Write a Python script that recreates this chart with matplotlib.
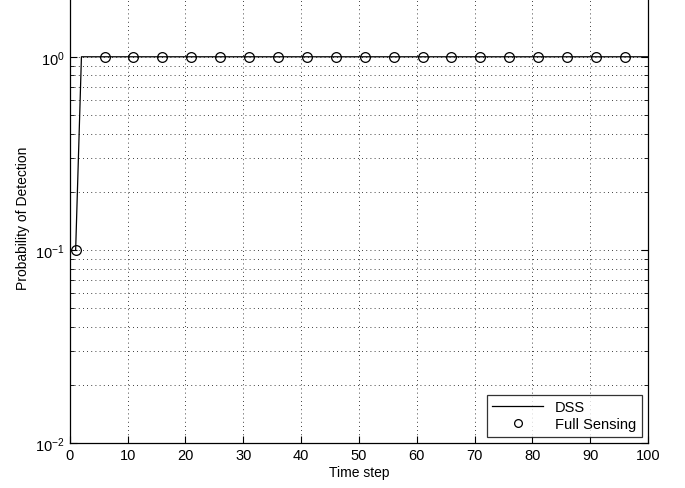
import matplotlib
matplotlib.use("Agg")
import matplotlib.pyplot as plt

plt.rcParams['font.family'] = ['Liberation Sans', 'DejaVu Sans']

# data
dss_x = [1, 2, 100]
dss_y = [0.1, 1.0, 1.0]

full_x = [1, 6, 11, 16, 21, 26, 31, 36, 41, 46, 51, 56, 61, 66, 71, 76, 81, 86, 91, 96]
full_y = [0.1] + [1.0] * 19

xticks = [0, 10, 20, 30, 40, 50, 60, 70, 80, 90, 100]

# plot
fig = plt.figure(figsize=(6.85, 4.89), dpi=100)
ax = fig.add_axes([0.102, 0.092, 0.844, 0.947])
ax.plot(dss_x, dss_y, '-', color='black', lw=0.9, label='DSS')
ax.plot(full_x, full_y, 'o', color='black', mfc='none', ms=7, mew=0.9,
        label='Full Sensing')
ax.set_yscale('log')
ax.set_xlim(0, 100)
ax.set_ylim(1e-2, 2.5)
ax.set_xticks(xticks)
ax.grid(True, which='major', linestyle=(0, (1, 4)), color='black', lw=0.6)
ax.grid(True, which='minor', axis='y', linestyle=(0, (1, 4)), color='black', lw=0.6)
ax.tick_params(which='both', direction='in', top=True, right=True, labelsize=10.5)
ax.tick_params(which='major', length=5)
ax.tick_params(which='minor', length=3)
for s in ax.spines.values():
    s.set_linewidth(0.9)
ax.set_xlabel('Time step', fontsize=10, labelpad=2)
ax.set_ylabel('Probability of Detection', fontsize=10)
ax.yaxis.set_label_coords(-0.069, 0.488)
leg = ax.legend(loc='lower right', fontsize=10.5, frameon=True, fancybox=False,
                edgecolor='black', borderaxespad=0.4, handlelength=3.5,
                labelspacing=0.2, markerscale=0.8)
leg.get_frame().set_linewidth(0.9)
fig.savefig('out.png', dpi=100)
